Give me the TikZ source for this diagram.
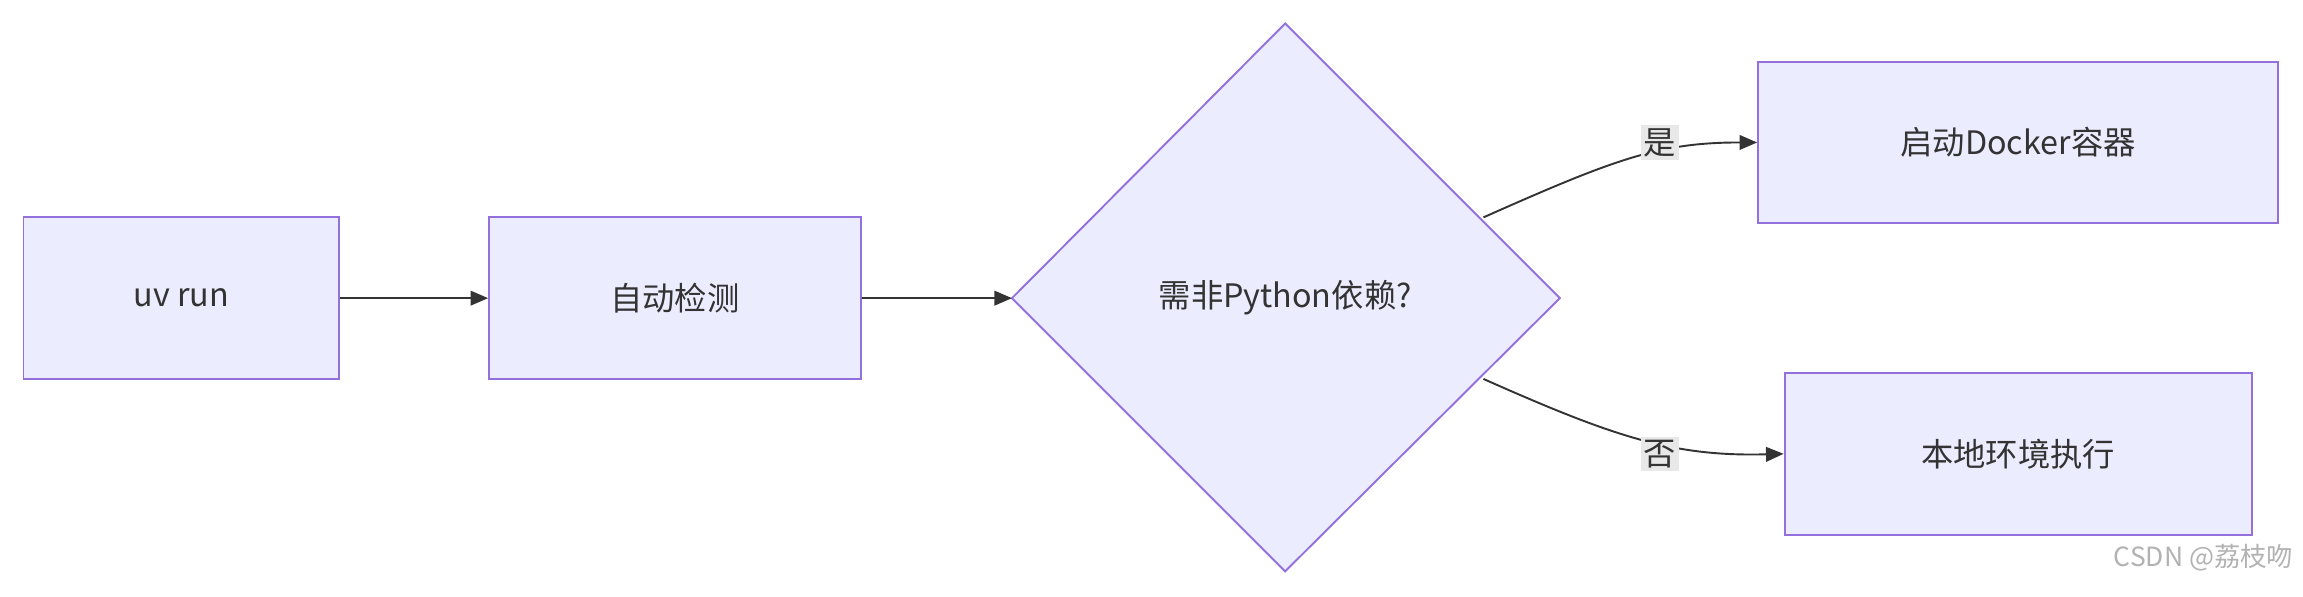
\documentclass[tikz,border=0pt]{standalone}
\usepackage{fontspec}
\setmainfont{Noto Sans CJK SC}
\usetikzlibrary{arrows.meta}
\definecolor{boxfill}{HTML}{ECECFF}
\definecolor{boxline}{HTML}{9370DB}
\definecolor{txt}{HTML}{333333}
\definecolor{lbl}{HTML}{E8E8E8}
\begin{document}
\begin{tikzpicture}[x=1pt,y=-1pt,
  box/.style={draw=boxline,fill=boxfill,line width=1.3pt,text=txt,font=\fontsize{22}{26}\selectfont,inner sep=0pt},
  edge/.style={draw=txt,line width=1.3pt,-{Triangle[length=12pt,width=10pt]}},
  elabel/.style={fill=lbl,text=txt,font=\fontsize{22}{26}\selectfont,inner sep=2pt}]
\useasboundingbox (0,0) rectangle (1568,406);
\node[box,minimum width=215pt,minimum height=110pt] (a) at (123.5,203) {uv run};
\node[box,minimum width=253pt,minimum height=110pt] (b) at (459.5,203) {自动检测};
\coordinate (dt) at (875,16); \coordinate (dr) at (1062,203);
\coordinate (db) at (875,389); \coordinate (dl) at (689,203);
\path[box] (dt) -- (dr) -- (db) -- (dl) -- cycle;
\node[text=txt,font=\fontsize{22}{26}\selectfont] (c) at (875,203) {需非Python依赖?};
\node[box,minimum width=354pt,minimum height=110pt] (d) at (1374,97) {启动Docker容器};
\node[box,minimum width=318pt,minimum height=110pt] (e) at (1374,309) {本地环境执行};
\coordinate (c1) at (1010,148); \coordinate (c2) at (1010,258);
\draw[edge] (a) -- (b);
\draw[edge] (b.east) .. controls (640,203) .. (dl);
\draw[edge] (c1) .. controls (1100,108) and (1130,97) .. (d.west);
\draw[edge] (c2) .. controls (1100,298) and (1140,311) .. (e.west);
\node[elabel] (l1) at (1130,97) {是};
\node[elabel] (l2) at (1130,309) {否};
\node[text=gray!60,font=\fontsize{18}{22}\selectfont,anchor=east] (w) at (1565,380) {CSDN @荔枝吻};
\end{tikzpicture}
\end{document}
